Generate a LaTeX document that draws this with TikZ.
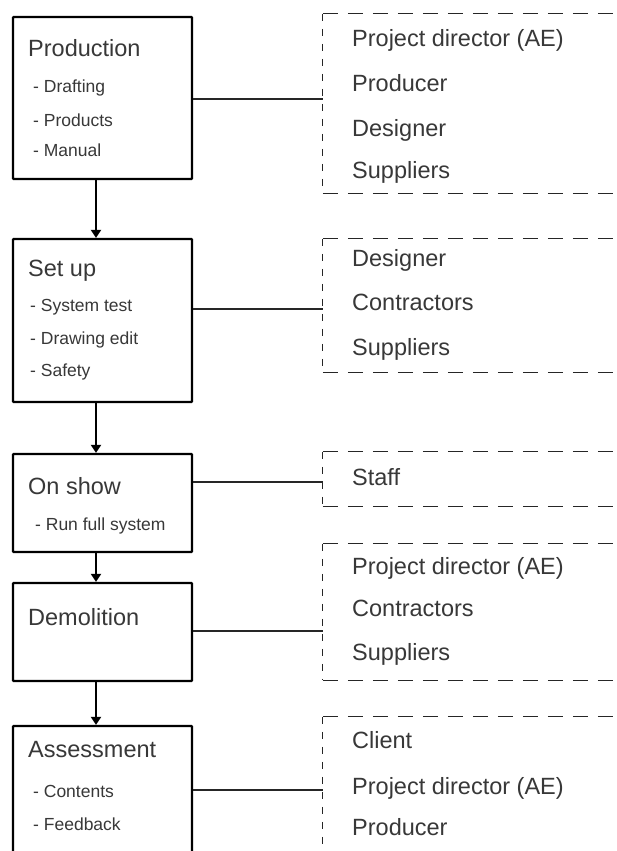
\documentclass[tikz,border=0pt]{standalone}
\usepackage{fontspec}
\setmainfont{Liberation Sans}
\usetikzlibrary{arrows.meta}
\definecolor{ink}{HTML}{383838}

\tikzset{
  stagebox/.style={rectangle, draw=black, line width=2.3pt, inner sep=0pt, rounded corners=0.8pt},
  groupbox/.style={rectangle, inner sep=0pt},
  title/.style={anchor=base west, inner sep=0pt, font=\fontsize{23.5}{26}\selectfont, text=ink},
  item/.style={anchor=base west, inner sep=0pt, font=\fontsize{17.5}{20}\selectfont, text=ink},
  member/.style={anchor=base west, inner sep=0pt, font=\fontsize{23.5}{26}\selectfont, text=ink},
  link/.style={line width=1.4pt, draw=black!85},
  flow/.style={line width=2.2pt, -{Triangle[width=10pt,length=8pt]}},
  vdash/.style={line width=1.35pt, draw=black!85, dash pattern=on 7pt off 8pt},
  hdash/.style={line width=1.35pt, draw=black!85, dash pattern=on 15pt off 10pt},
}

\begin{document}
\begin{tikzpicture}[x=1pt,y=-1pt]
\useasboundingbox (0,0) rectangle (616,851);
\clip (0,0) rectangle (616,851);
\fill[white] (0,0) rectangle (616,851);

% stages of the process
\node[stagebox, minimum width=179pt, minimum height=162pt] (prod)   at (102.5,98)    {};
\node[stagebox, minimum width=179pt, minimum height=163pt] (setup)  at (102.5,320.5) {};
\node[stagebox, minimum width=179pt, minimum height=98pt]  (onshow) at (102.5,503)   {};
\node[stagebox, minimum width=179pt, minimum height=98pt]  (demol)  at (102.5,632)   {};
\node[stagebox, minimum width=179pt, minimum height=154pt] (assess) at (102.5,803)   {};

% stage texts
\node[title] (prod-t)  at (28,57)    {Production};
\node[item]  (prod-a)  at (33,92.7)  {- Drafting};
\node[item]  (prod-b)  at (33,126)   {- Products};
\node[item]  (prod-c)  at (33,156.7) {- Manual};

\node[title] (setup-t) at (28,276)   {Set up};
\node[item]  (setup-a) at (30,311)   {- System test};
\node[item]  (setup-b) at (30,344)   {- Drawing edit};
\node[item]  (setup-c) at (30,376)   {- Safety};

\node[title] (onshow-t) at (28,494)  {On show};
\node[item]  (onshow-a) at (35,530)  {- Run full system};

\node[title] (demol-t) at (28,625)   {Demolition};

\node[title] (assess-t) at (28,757)  {Assessment};
\node[item]  (assess-a) at (33,797)  {- Contents};
\node[item]  (assess-b) at (33,830)  {- Feedback};

% groups of people involved
\node[groupbox, minimum width=337pt, minimum height=179pt] (r1) at (491.5,103.5) {};
\node[groupbox, minimum width=337pt, minimum height=133pt] (r2) at (491.5,305.5) {};
\node[groupbox, minimum width=337pt, minimum height=54pt]  (r3) at (491.5,479)   {};
\node[groupbox, minimum width=337pt, minimum height=136pt] (r4) at (491.5,612)   {};
\node[groupbox, minimum width=337pt, minimum height=183pt] (r5) at (491.5,808.5) {};

\foreach \g in {r1,r2,r3,r4,r5}{
  \draw[vdash] (\g.north west) -- (\g.south west);
  \draw[hdash] (\g.north west) -- (\g.north east);
  \draw[hdash] (\g.south west) -- (\g.south east);
}

\node[member] (r1-a) at (352,47)    {Project director (AE)};
\node[member] (r1-b) at (352,91.7)  {Producer};
\node[member] (r1-c) at (352,136)   {Designer};
\node[member] (r1-d) at (352,178)   {Suppliers};

\node[member] (r2-a) at (352,266.7) {Designer};
\node[member] (r2-b) at (352,310.7) {Contractors};
\node[member] (r2-c) at (352,355)   {Suppliers};

\node[member] (r3-a) at (352,485)   {Staff};

\node[member] (r4-a) at (352,574)   {Project director (AE)};
\node[member] (r4-b) at (352,616)   {Contractors};
\node[member] (r4-c) at (352,660)   {Suppliers};

\node[member] (r5-a) at (352,748)   {Client};
\node[member] (r5-b) at (352,794)   {Project director (AE)};
\node[member] (r5-c) at (352,835)   {Producer};

% links from each stage to its group
\coordinate (l1) at (0,99);
\coordinate (l2) at (0,309);
\coordinate (l3) at (0,482);
\coordinate (l4) at (0,631);
\coordinate (l5) at (0,790);
\draw[link] (prod.east |- l1)   -- (r1.west |- l1);
\draw[link] (setup.east |- l2)  -- (r2.west |- l2);
\draw[link] (onshow.east |- l3) -- (r3.west |- l3);
\draw[link] (demol.east |- l4)  -- (r4.west |- l4);
\draw[link] (assess.east |- l5) -- (r5.west |- l5);

% flow between stages
\coordinate (spine) at (96,0);
\draw[flow] (prod.south -| spine)   -- (setup.north -| spine);
\draw[flow] (setup.south -| spine)  -- (onshow.north -| spine);
\draw[flow] (onshow.south -| spine) -- (demol.north -| spine);
\draw[flow] (demol.south -| spine)  -- (assess.north -| spine);
\end{tikzpicture}
\end{document}
